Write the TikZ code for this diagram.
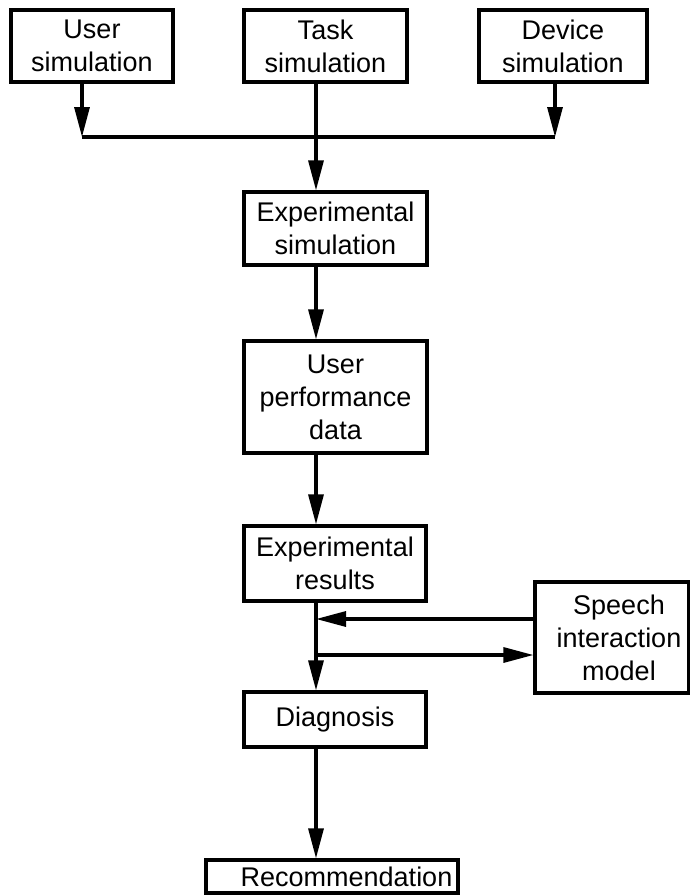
\documentclass[tikz,border=0pt]{standalone}
\usepackage{fontspec}
\setmainfont{Liberation Sans}
\usetikzlibrary{arrows.meta}
\begin{document}
\begin{tikzpicture}[x=1pt,y=-1pt,
  box/.style={draw, line width=3.2pt, rectangle, inner sep=0pt, align=center,
    font=\fontsize{27}{33}\selectfont},
  flow/.style={line width=3.2pt},
  arr/.style={flow, -{Triangle[length=30pt,width=15pt]}}]
\useasboundingbox (0,0) rectangle (690,895);

% boxes
\node[box, minimum width=162pt, minimum height=72pt] (user) at (92,46) {User\\simulation};
\node[box, minimum width=163pt, minimum height=72pt] (task) at (325.5,46) {Task\\simulation};
\node[box, minimum width=168pt, minimum height=72pt] (device) at (563,46) {Device\\simulation};
\node[box, minimum width=183pt, minimum height=73pt] (expsim) at (335.5,228.5) {Experimental\\simulation};
\node[box, minimum width=183pt, minimum height=112pt] (upd) at (335.5,397) {User\\performance\\data};
\node[box, minimum width=182pt, minimum height=75pt] (expres) at (335,563.5) {Experimental\\results};
\node[box, minimum width=154pt, minimum height=111pt] (speech) at (612,637.5) {\hspace*{14pt}Speech\\\hspace*{14pt}interaction\\\hspace*{14pt}model};
\node[box, minimum width=182pt, minimum height=55pt] (diag) at (335,719.5) {Diagnosis};
\node[box, minimum width=252pt, minimum height=33pt] (rec) at (332,876.5) {\hspace*{29pt}Recommendation};

% junction points
\coordinate (jl) at (82,137);
\coordinate (jm) at (316,137);
\coordinate (jr) at (555,137);
\coordinate (fb1) at (316,619);
\coordinate (fb2) at (316,655);

% connectors
\draw[arr] (user.south -| jl) -- (jl);
\draw[arr] (device.south -| jr) -- (jr);
\draw[flow] (jl) -- (jr);
\draw[arr] (task.south -| jm) -- (expsim.north -| jm);
\draw[arr] (expsim.south -| jm) -- (upd.north -| jm);
\draw[arr] (upd.south -| jm) -- (expres.north -| jm);
\draw[arr] (expres.south -| jm) -- (diag.north -| jm);
\draw[arr] (speech.west |- fb1) -- (fb1);
\draw[arr] (fb2) -- (speech.west |- fb2);
\draw[arr] (diag.south -| jm) -- (rec.north -| jm);
\end{tikzpicture}
\end{document}
